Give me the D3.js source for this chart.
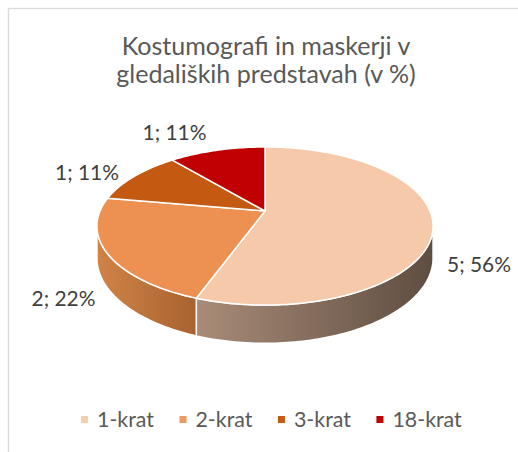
<!DOCTYPE html>
<html>
<head>
<meta charset="utf-8">
<script src="https://cdn.jsdelivr.net/npm/d3@7"></script>
<style>
  html, body { margin: 0; padding: 0; background: #fff; }
  svg { display: block; font-family: Lato, "Open Sans", sans-serif; }
</style>
</head>
<body>
<div id="chart"></div>
<script>
const categories = ['1-krat', '2-krat', '3-krat', '18-krat'];
const counts = [5, 2, 1, 1];
const percents = [56, 22, 11, 11];
const titleLines = ['Kostumografi in maskerji v', 'gledaliških predstavah (v %)'];

const topColors = ['#F5C9A9', '#ED9153', '#C45A11', '#C00000'];
const legendColors = ['#F8CBAD', '#F09A5B', '#C55A11', '#C00000'];
const sideColors = [['#A98C78', '#5E4D41'], ['#D08347', '#A8632F'], ['#A04A0E', '#7E3A0B'], ['#9A0000', '#780000']];

const W = 518, H = 452;
const svg = d3.select('#chart').append('svg')
    .attr('width', W)
    .attr('height', H);

// chart area border (runs off the right and bottom edge)
svg.append('rect')
    .attr('x', 8.5).attr('y', 8.5)
    .attr('width', W + 20).attr('height', H + 20)
    .attr('fill', '#fff')
    .attr('stroke', '#D9D9D9')
    .attr('stroke-width', 1.3);

// fit a font size so that a sample text gets a given width
function fitSize(sample, target) {
    const t = svg.append('text').style('font-size', '20px').text(sample);
    const w = t.node().getComputedTextLength();
    t.remove();
    return 20 * target / w;
}

const titleSize = fitSize(titleLines[0], 289);
const labelSize = fitSize('1; 11%', 64);
const legendSize = fitSize('1-krat', 57);

// title
svg.append('text')
    .attr('text-anchor', 'middle')
    .attr('fill', '#595959')
    .style('font-size', titleSize + 'px')
    .selectAll('tspan')
    .data(titleLines)
    .join('tspan')
    .attr('x', 266)
    .attr('y', (d, i) => 55 + i * 28)
    .text(d => d);

// 3d pie with a bit of perspective
const cx = 265, cy = 211, R = 165, A = 76.2, persp = 0.19, depth = 31;

function proj(theta, z) {
    const u = Math.sin(theta), v = -Math.cos(theta);
    const s = 1 / (1 - persp * v);
    return [cx + R * u * s, cy + A * v * s + z * depth * s];
}

function arcPoints(a0, a1, z) {
    const n = Math.max(2, Math.ceil(Math.abs(a1 - a0) / 0.02));
    const pts = [];
    for (let i = 0; i <= n; i++) pts.push(proj(a0 + (a1 - a0) * i / n, z));
    return pts;
}

const pie = d3.pie().sort(null).value(d => d.count);
const slices = pie(categories.map((c, i) => ({ cat: c, count: counts[i], pct: percents[i], i })));

const line = d3.line();
const defs = svg.append('defs');

// visible part of the rim
const visFrom = Math.acos(-persp);
const visTo = 2 * Math.PI - visFrom;

const gPie = svg.append('g');

slices.forEach(s => {
    const a0 = Math.max(s.startAngle, visFrom);
    const a1 = Math.min(s.endAngle, visTo);
    if (a1 <= a0) return;
    const topArc = arcPoints(a0, a1, 0);
    const botArc = arcPoints(a1, a0, 1);
    const xs = topArc.map(p => p[0]);
    const id = 'side' + s.data.i;
    const grad = defs.append('linearGradient')
        .attr('id', id)
        .attr('gradientUnits', 'userSpaceOnUse')
        .attr('x1', d3.min(xs)).attr('x2', d3.max(xs))
        .attr('y1', 0).attr('y2', 0);
    grad.append('stop').attr('offset', 0).attr('stop-color', sideColors[s.data.i][0]);
    grad.append('stop').attr('offset', 1).attr('stop-color', sideColors[s.data.i][1]);
    gPie.append('path')
        .attr('d', line(topArc.concat(botArc)) + 'Z')
        .attr('fill', `url(#${id})`)
        .attr('stroke', '#fff')
        .attr('stroke-width', 1.5)
        .attr('stroke-linejoin', 'round');
});

slices.forEach(s => {
    const pts = [[cx, cy]].concat(arcPoints(s.startAngle, s.endAngle, 0));
    gPie.append('path')
        .attr('d', line(pts) + 'Z')
        .attr('fill', topColors[s.data.i])
        .attr('stroke', '#fff')
        .attr('stroke-width', 1.5)
        .attr('stroke-linejoin', 'round');
});

// data labels
const labelPos = [[479, 272], [63.5, 306], [87, 180], [174.5, 140]];
svg.append('g')
    .selectAll('text')
    .data(slices)
    .join('text')
    .attr('text-anchor', 'middle')
    .attr('x', d => labelPos[d.data.i][0])
    .attr('y', d => labelPos[d.data.i][1])
    .attr('fill', '#404040')
    .style('font-size', labelSize + 'px')
    .text(d => `${d.data.count}; ${d.data.pct}%`);

// legend
const legend = svg.append('g');
let lx = 81;
categories.forEach((c, i) => {
    legend.append('rect')
        .attr('x', lx).attr('y', 416)
        .attr('width', 7).attr('height', 7)
        .attr('fill', legendColors[i]);
    const t = legend.append('text')
        .attr('x', lx + 16).attr('y', 427)
        .attr('fill', '#595959')
        .style('font-size', legendSize + 'px')
        .text(c);
    lx += 16 + t.node().getComputedTextLength() + 25.5;
});
</script>
</body>
</html>
